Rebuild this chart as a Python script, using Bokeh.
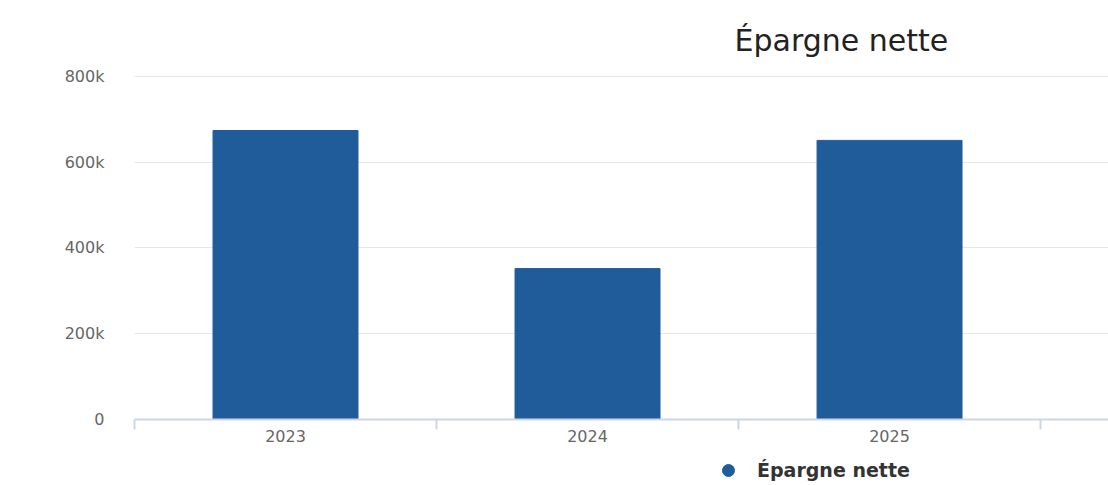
from bokeh.plotting import figure
from bokeh.layouts import column
from bokeh.models import (ColumnDataSource, FixedTicker, NumeralTickFormatter, Range1d,
                          Legend, LegendItem, Title)
from bokeh.embed import file_html
from bokeh.resources import INLINE

categories = ["2023", "2024", "2025"]
values = [674000, 352000, 651000]
y_ticks = [0, 200000, 400000, 600000, 800000]
title_text = "Épargne nette"
series_name = "Épargne nette"

BAR = "#1f5c99"
FONT = "DejaVu Sans"

xs = list(range(len(categories)))
src = ColumnDataSource(dict(x=xs, top=values, cat=categories))

p = figure(output_backend="svg", toolbar_location=None,
           x_range=Range1d(-0.5, 2.725), y_range=Range1d(0, 837300),
           frame_width=974, frame_height=359,
           min_border_left=134, min_border_right=0, min_border_top=60, min_border_bottom=36,
           background_fill_color="white", border_fill_color="white")
p.outline_line_color = None

p.vbar(x="x", top="top", width=0.48, source=src, fill_color=BAR, line_color=BAR)

# title
t = Title(text=title_text, align="left", text_font=FONT, text_font_size="30px",
          text_font_style="normal", text_color="#222222", offset=600, standoff=5)
p.title = t

# y axis
ya = p.yaxis[0]
ya.ticker = FixedTicker(ticks=y_ticks)
ya.formatter = NumeralTickFormatter(format="0a")
ya.axis_line_color = None
ya.major_tick_line_color = None
ya.minor_tick_line_color = None
ya.major_tick_out = 0
ya.major_tick_in = 0
ya.major_label_standoff = 30
ya.major_label_text_font = FONT
ya.major_label_text_font_size = "16px"
ya.major_label_text_color = "#666666"

# x axis
xa = p.xaxis[0]
xa.ticker = FixedTicker(ticks=xs, minor_ticks=[-0.5, 0.5, 1.5, 2.5])
xa.major_label_overrides = {i: c for i, c in zip(xs, categories)}
xa.axis_line_color = "#ccd6eb"
xa.axis_line_width = 2
xa.major_tick_line_color = None
xa.major_tick_out = 0
xa.major_tick_in = 0
xa.minor_tick_line_color = "#ccd6eb"
xa.minor_tick_line_width = 2
xa.minor_tick_out = 10
xa.minor_tick_in = 0
xa.major_label_standoff = 0
xa.major_label_text_font = FONT
xa.major_label_text_font_size = "16px"
xa.major_label_text_color = "#666666"

p.xgrid.grid_line_color = None
p.ygrid.ticker = FixedTicker(ticks=y_ticks)
p.ygrid.grid_line_color = "#e6e6e6"
p.ygrid.grid_line_width = 1

# legend strip below the chart
lf = figure(output_backend="svg", toolbar_location=None,
            x_range=Range1d(0, 1), y_range=Range1d(0, 1),
            frame_width=1108, frame_height=30,
            min_border_left=0, min_border_right=0, min_border_top=0, min_border_bottom=0,
            background_fill_color="white", border_fill_color="white")
lf.outline_line_color = None
lf.axis.visible = False
lf.grid.visible = False
# legend proxy renderer (kept out of view)
dummy = lf.scatter(x=[-5], y=[-5], size=16, fill_color=BAR, line_color=BAR, marker="circle")
legend = Legend(items=[LegendItem(label=series_name, renderers=[dummy])],
                location=(713, 0), orientation="horizontal",
                label_text_font=FONT, label_text_font_size="19px",
                label_text_font_style="bold", label_text_color="#333333",
                glyph_width=30, glyph_height=30, padding=0, margin=0, spacing=0,
                label_standoff=14, label_height=30,
                border_line_color=None, background_fill_alpha=0)
lf.add_layout(legend, "center")

layout = column(p, lf, spacing=0)
open("out.html", "w").write(file_html(layout, INLINE))
